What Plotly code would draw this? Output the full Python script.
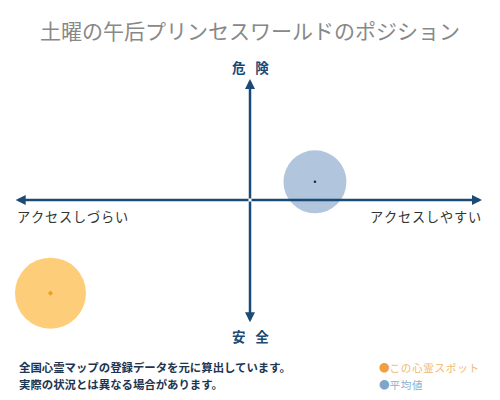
import plotly.graph_objects as go

title = "土曜の午后プリンセスワールドのポジション"
x_labels = ["アクセスしづらい", "アクセスしやすい"]
y_labels = ["安全", "危険"]
series_names = ["この心霊スポット", "平均値"]
spot_x = [-8.6]
spot_y = [-7.7]
avg_x = [2.8]
avg_y = [1.5]
notes = ["全国心霊マップの登録データを元に算出しています。",
         "実際の状況とは異なる場合があります。"]

navy = "#1b4a74"
font = "Noto Sans CJK JP"

# the page has an 8px body margin, so the figure is drawn a bit smaller
W, H, OFF = 492, 392, 8


def px(x):
    return (x - OFF) / W


def py(y):
    return 1 - (y - OFF) / H


def spaced(s, sep="\u200a"):
    return sep.join(s)


fig = go.Figure()

# big translucent circles + small centre dots
fig.add_trace(go.Scatter(x=avg_x, y=avg_y, mode="markers", hoverinfo="skip",
                         marker=dict(size=63, color="#a9bfd8", opacity=0.9, line=dict(width=0))))
fig.add_trace(go.Scatter(x=avg_x, y=avg_y, mode="markers", hoverinfo="skip",
                         marker=dict(size=2.5, color="#1a2a3a")))
fig.add_trace(go.Scatter(x=spot_x, y=spot_y, mode="markers", hoverinfo="skip",
                         marker=dict(size=71, color="#fdca72", opacity=0.95, line=dict(width=0))))
fig.add_trace(go.Scatter(x=spot_x, y=spot_y, mode="markers", hoverinfo="skip",
                         marker=dict(size=4, color="#f0a020", symbol="diamond")))

# axis arrows from the centre outwards
arrows = []
for ax_, ay_ in [(10, 0), (-10.1, 0), (0, 10), (0, -10.1)]:
    arrows.append(dict(x=ax_, y=ay_, ax=0, ay=0, xref="x", yref="y", axref="x", ayref="y",
                       showarrow=True, arrowhead=2, arrowsize=0.8, arrowwidth=2.5,
                       arrowcolor=navy, text=""))

labels = [
    dict(x=0, y=11.0, text="<b>" + spaced(y_labels[1], "\u2002 ") + "</b>", font=dict(size=13.5, color=navy)),
    dict(x=0, y=-11.2, text="<b>" + spaced(y_labels[0], "\u2002 ") + "</b>", font=dict(size=13.5, color=navy)),
    dict(x=-10.15, y=-1.35, text=spaced(x_labels[0]), xanchor="left", font=dict(size=13.2, color="#333")),
    dict(x=10.05, y=-1.35, text=spaced(x_labels[1]), xanchor="right", font=dict(size=13.2, color="#333")),
]
for l in labels:
    l.update(xref="x", yref="y", showarrow=False)

paper = [
    dict(x=px(250), y=py(30), text=title, xanchor="center", yanchor="middle",
         font=dict(size=21, color="#888888")),
    dict(x=px(17), y=py(367), text="<b>" + notes[0] + "</b>", xanchor="left", yanchor="middle",
         font=dict(size=11.4, color="#1e3550")),
    dict(x=px(17), y=py(384), text="<b>" + notes[1] + "</b>", xanchor="left", yanchor="middle",
         font=dict(size=11.4, color="#1e3550")),
    dict(x=px(377), y=py(367), text="<span style='color:#f0a040'>●</span>" + spaced(series_names[0]),
         xanchor="left", yanchor="middle", font=dict(size=10.6, color="#f2b870")),
    dict(x=px(377), y=py(384), text="<span style='color:#7fa6c8'>●</span>" + spaced(series_names[1]),
         xanchor="left", yanchor="middle", font=dict(size=10.6, color="#8fb0cc")),
]
for p in paper:
    p.update(xref="paper", yref="paper", showarrow=False)

fig.update_layout(
    width=W, height=H,
    margin=dict(l=0, r=0, t=0, b=0),
    paper_bgcolor="white", plot_bgcolor="white",
    showlegend=False,
    font=dict(family=font),
    xaxis=dict(range=[-242 / 23.2, 250 / 23.2], visible=False, fixedrange=True),
    yaxis=dict(range=[-200 / 12.1, 192 / 12.1], visible=False, fixedrange=True),
    annotations=arrows + labels + paper,
)

fig.write_html("out.html")
